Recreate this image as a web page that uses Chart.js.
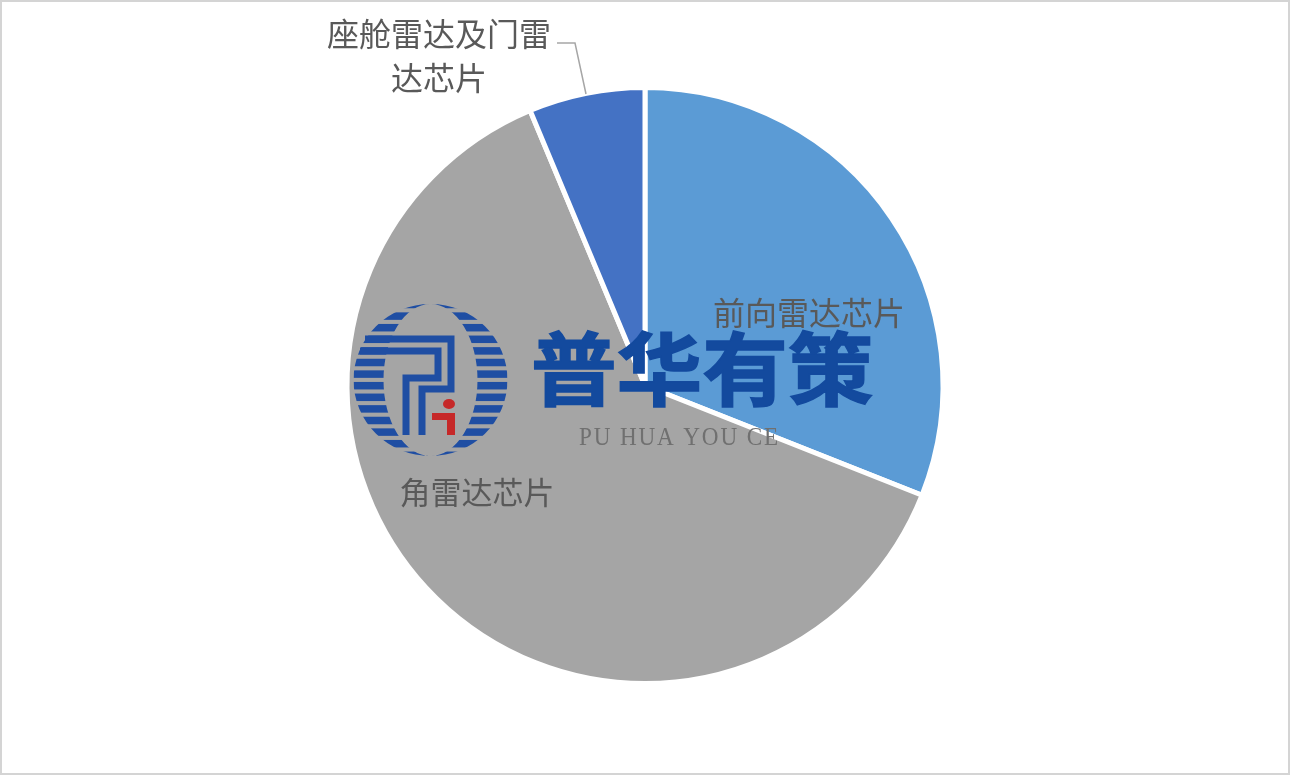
<!DOCTYPE html>
<html>
<head>
<meta charset="utf-8">
<style>
html, body { margin: 0; padding: 0; background: #fff; }
#wrap { position: relative; width: 1290px; height: 775px; }
#pieChart { filter: blur(0.5px); }
</style>
<script src="https://cdn.jsdelivr.net/npm/chart.js@4"></script>
</head>
<body>
<div id="wrap"><canvas id="pieChart" width="1290" height="775"></canvas></div>
<script>
const categories = ['前向雷达芯片', '角雷达芯片', '座舱雷达及门雷达芯片'];
const shares = [31, 62.7, 6.3];
const sliceColors = ['#5B9BD5', '#A5A5A5', '#4472C4'];
const logoTitle = '普华有策';
const logoSub = 'PU HUA YOU CE';

// labels, leader line, frame and watermark
const overlay = {
    id: 'overlay',
    afterDraw(chart) {
        const c = chart.ctx;
        c.save();
        c.strokeStyle = '#d4d4d4';
        c.lineWidth = 2;
        c.strokeRect(1, 1, 1288, 773);

        c.strokeStyle = '#a6a6a6';
        c.lineWidth = 1.5;
        c.beginPath();
        c.moveTo(557, 43);
        c.lineTo(575, 43);
        c.lineTo(586, 94);
        c.stroke();

        c.fillStyle = '#595959';
        c.font = '32px "Noto Sans CJK SC"';
        c.textAlign = 'center';
        c.textBaseline = 'middle';
        c.fillText('前向雷达芯片', 809, 313);
        c.fillText('座舱雷达及门雷', 439, 34);
        c.fillText('达芯片', 439, 78);
        c.font = '31px "Noto Sans CJK SC"';
        c.fillText('角雷达芯片', 477, 492);

        // watermark logo: striped ring, the pie shows through the middle
        const lx = 430.5, ly = 380;
        c.save();
        c.beginPath();
        c.ellipse(lx, ly, 77, 76, 0, 0, Math.PI * 2);
        c.ellipse(lx, ly, 47, 76, 0, 0, Math.PI * 2);
        c.clip('evenodd');
        c.fillStyle = '#1f4ea3';
        for (let i = -6; i <= 7; i++) c.fillRect(lx - 77, 374.1 + i * 11.6 - 3.75, 154, 7.5);
        c.restore();

        c.strokeStyle = '#1f4ea3';
        c.lineWidth = 7;
        c.beginPath();
        c.moveTo(365, 339); c.lineTo(451, 339); c.lineTo(451, 389); c.lineTo(422, 389); c.lineTo(422, 435);
        c.moveTo(360, 351); c.lineTo(438, 351); c.lineTo(438, 378); c.lineTo(406, 378); c.lineTo(406, 435);
        c.stroke();

        c.fillStyle = '#c62828';
        c.fillRect(432, 413, 23, 7);
        c.fillRect(447, 413, 8, 22);
        c.beginPath();
        c.ellipse(449, 404, 6, 5, 0, 0, Math.PI * 2);
        c.fill();

        c.fillStyle = '#134a9e';
        c.strokeStyle = '#134a9e';
        c.lineWidth = 1.5;
        c.font = 'bold 80px "Noto Sans CJK SC"';
        c.textAlign = 'left';
        c.save();
        c.translate(531, 369);
        c.scale(1.07, 1);
        c.fillText(logoTitle, 0, 0);
        c.strokeText(logoTitle, 0, 0);
        c.restore();

        c.fillStyle = '#707070';
        c.font = '25px "Liberation Serif"';
        c.letterSpacing = '2px';
        c.save();
        c.translate(579, 438);
        c.scale(0.926, 1);
        c.fillText(logoSub, 0, 0);
        c.restore();
        c.restore();
    }
};

new Chart(document.getElementById('pieChart'), {
    type: 'pie',
    data: {
        labels: categories,
        datasets: [{
            data: shares,
            backgroundColor: sliceColors,
            borderColor: '#ffffff',
            borderWidth: 5
        }]
    },
    options: {
        responsive: false,
        animation: false,
        radius: 298,
        layout: { padding: { bottom: 4 } },
        plugins: { legend: { display: false }, tooltip: { enabled: false } }
    },
    plugins: [overlay]
});
</script>
</body>
</html>
